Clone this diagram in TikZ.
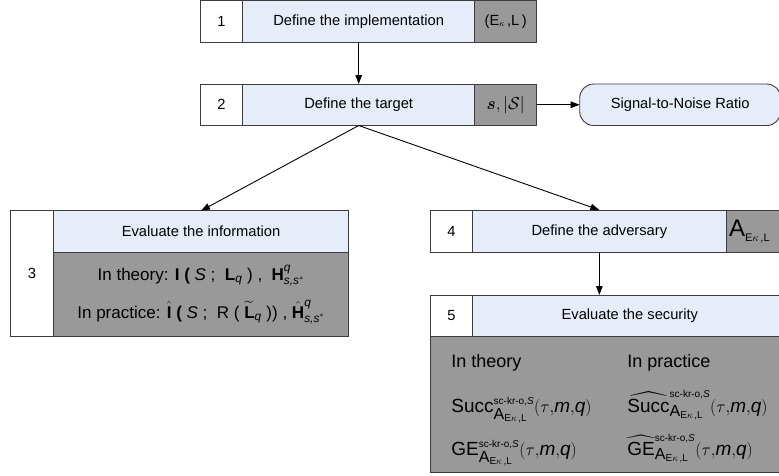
\documentclass[tikz,border=0pt]{standalone}
\usepackage{amsmath,amssymb}
\usepackage{fontspec}
\setmainfont{Liberation Sans}
\usetikzlibrary{arrows.meta, positioning}

\definecolor{stepblue}{HTML}{E6EDF8}
\definecolor{stepgrey}{HTML}{999999}
\definecolor{stepline}{HTML}{3C3C3C}

\newcommand{\tsz}[2]{\text{\fontsize{#1}{#1}\selectfont #2}}
\newcommand{\advA}{\tsz{16}{A}_{\tsz{10}{E$\kappa$\,,L}}}
\newcommand{\gamesup}{\tsz{10}{sc-kr-o,\itshape S}}
\newcommand{\argl}{(\tau{,}\text{\itshape m}{,}\text{\itshape q})}

\begin{document}
\begin{tikzpicture}[
    x=1pt, y=-1pt,
    line width=0.9pt,
    % === STYLES ===
    cell/.style={
        rectangle,
        draw=stepline,
        outer sep=0pt,
        inner sep=2pt,
        minimum height=41.5pt,
        font=\fontsize{14.7}{17}\selectfont,
        align=center
    },
    numcell/.style={cell, fill=white, minimum width=42.7pt},
    titlecell/.style={cell, fill=stepblue},
    valcell/.style={cell, fill=stepgrey},
    snr/.style={
        cell,
        fill=stepblue,
        rounded corners=14pt,
        minimum width=201pt
    },
    arrow/.style={
        -{Triangle[length=9pt,width=6.5pt]},
        black
    },
    secline/.style={
        anchor=base west,
        inner sep=0pt,
        font=\fontsize{18}{20}\selectfont
    },
    secformula/.style={
        secline,
        font=\fontsize{19}{21}\selectfont
    }
]
\useasboundingbox (0,0) rectangle (779,475);
\clip (0,0) rectangle (779,475);

% === STEP 1: IMPLEMENTATION ===
\node[numcell, anchor=north west] (num1) at (200,0.5) {1};
\node[titlecell, minimum width=232pt, right=0pt of num1] (title1) {Define the implementation};
\node[valcell, minimum width=62pt, right=0pt of title1] (val1) {(E\raisebox{-1pt}{\small$\kappa$}\,,L\,)};

% === STEP 2: TARGET ===
\node[numcell, anchor=north west] (num2) at (200,84) {2};
\node[titlecell, minimum width=232pt, right=0pt of num2] (title2) {Define the target};
\node[valcell, minimum width=62pt, right=0pt of title2] (val2) {\fontsize{18}{18}\selectfont$\boldsymbol{s}, |\mathcal{S}|$};
\node[snr, right=43pt of val2] (snr) {Signal-to-Noise Ratio};

% === STEP 3: INFORMATION ===
\node[numcell, minimum height=126pt, anchor=north west] (num3) at (10.7,210.7) {3};
\node[titlecell, minimum width=295.3pt, anchor=north west] (title3) at (num3.north east) {Evaluate the information};
\node[valcell, minimum width=295.3pt, minimum height=84.7pt, anchor=north west,
      font=\fontsize{17}{38}\selectfont] (val3) at (title3.south west)
    {In theory: \textbf{I (} \textit{S} ;\ \ $\text{\bfseries L}_{\text{\itshape q}}$ ) ,\ \ $\text{\bfseries H}^{\text{\itshape q}}_{\text{\itshape s,s$^{*}$}}$\\
     In practice: $\hat{\text{\bfseries I}}$\textbf{ (} \textit{S} ;\ \ R ( $\widetilde{\text{\bfseries L}}_{\text{\itshape q}}$ )) , $\hat{\text{\bfseries H}}^{\text{\itshape q}}_{\text{\itshape s,s$^{*}$}}$};

% === STEP 4: ADVERSARY ===
\node[numcell, minimum height=42.7pt, anchor=north west] (num4) at (430,210) {4};
\node[titlecell, minimum height=42.7pt, minimum width=253.3pt, right=0pt of num4] (title4) {Define the adversary};
\node[valcell, minimum height=42.7pt, minimum width=70pt, right=0pt of title4, align=left, text width=64pt] (val4)
    {{\fontsize{24}{24}\selectfont A}\raisebox{-5pt}{\fontsize{11}{11}\selectfont E$\kappa$\,,L}};

% === STEP 5: SECURITY ===
\node[numcell, minimum height=41.7pt, anchor=north west] (num5) at (430,295) {5};
\node[titlecell, minimum height=41.7pt, minimum width=314.3pt, right=0pt of num5] (title5) {Evaluate the security};
\node[valcell, minimum width=357pt, minimum height=135.3pt, anchor=north west] (val5) at (num5.south west) {};

\node[secline] (theory) at (451,367) {In theory};
\node[secline] (practice) at (627,367) {In practice};
\node[secformula] (succth) at (451,412) {$\text{Succ}^{\gamesup}_{\advA}\argl$};
\node[secformula] (succpr) at (627,412) {$\widehat{\text{Succ}}^{\gamesup}_{\advA}\argl$};
\node[secformula] (geth) at (451,455) {$\text{GE}^{\gamesup}_{\advA}\argl$};
\node[secformula] (gepr) at (627,455) {$\widehat{\text{GE}}^{\gamesup}_{\advA}\argl$};

% === CONNECTIONS ===
\draw[arrow] (title1) -- (title2);
\draw[arrow] (val2) -- (snr);
\draw[arrow] (title2.south) -- (title3.north);
\draw[arrow] (title2.south) -- (title4.north);
\draw[arrow] (title4.south) -- (title4.south |- title5.north);

\end{tikzpicture}
\end{document}
